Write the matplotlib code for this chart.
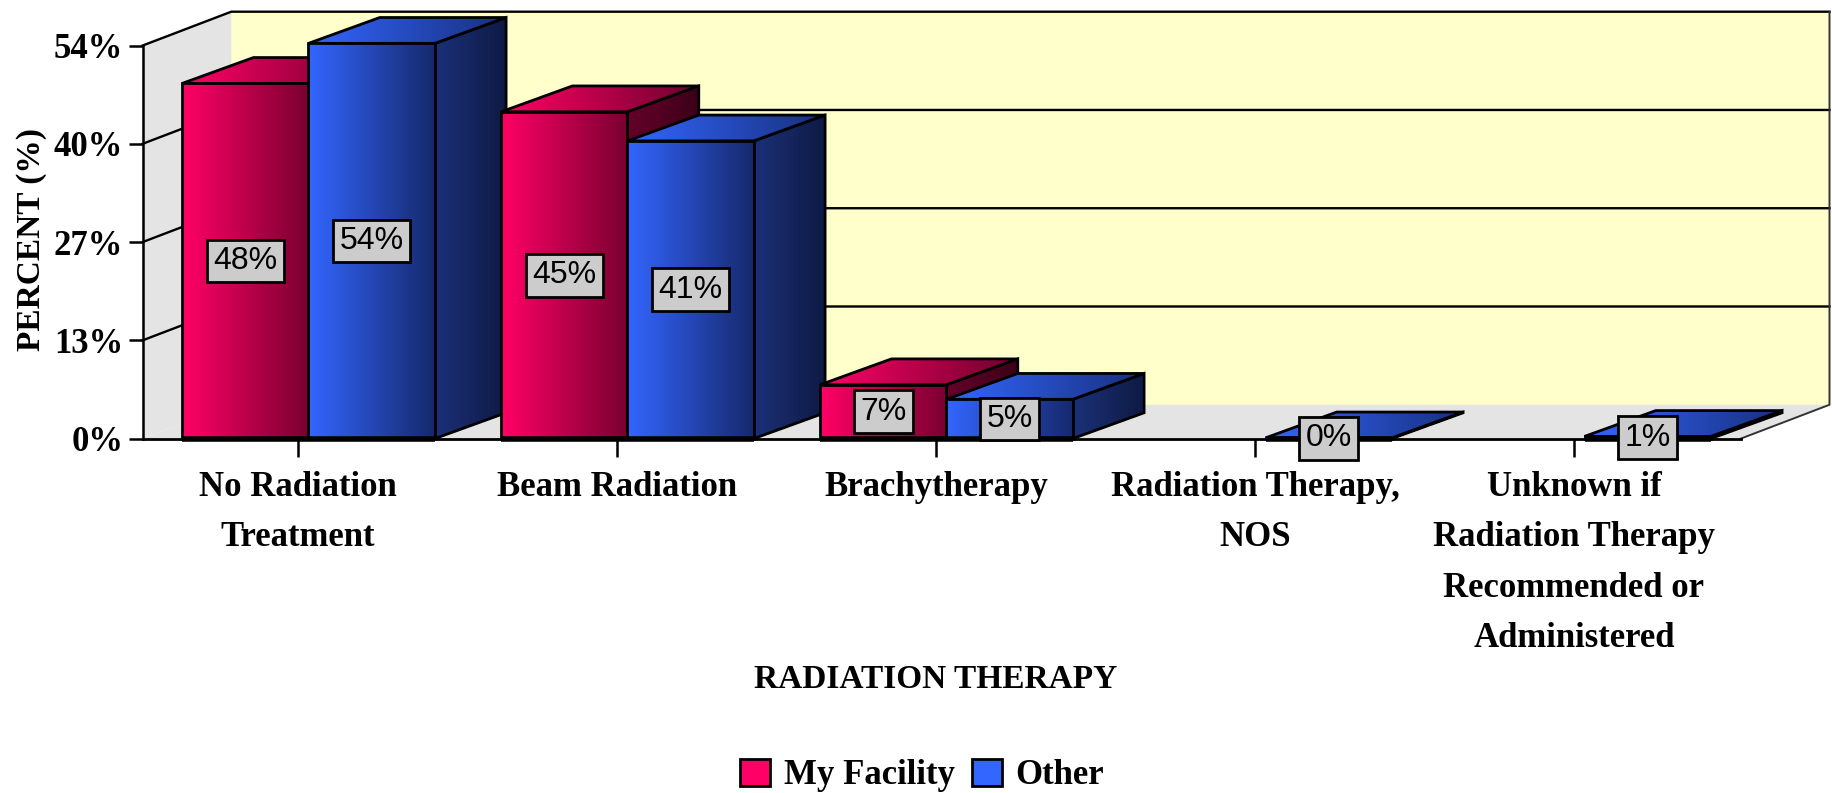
import numpy as np
import matplotlib
matplotlib.use("Agg")
import matplotlib.pyplot as plt
from matplotlib.patches import Polygon, Patch

categories = ["No Radiation\nTreatment", "Beam Radiation", "Brachytherapy",
              "Radiation Therapy,\nNOS",
              "Unknown if\nRadiation Therapy\nRecommended or\nAdministered"]
my_facility = [48.8, 44.9, 7.4, 0.0, 0.0]
other = [54.3, 40.9, 5.4, 0.1, 0.3]
my_facility_labels = ["48%", "45%", "7%", None, None]
other_labels = ["54%", "41%", "5%", "0%", "1%"]
y_ticks = [0, 13.5, 27, 40.5, 54]
y_tick_labels = ["0%", "13%", "27%", "40%", "54%"]

# colours: left/right of the gradient on each face
red_front = ("#FF0066", "#7A0030")
red_top = ("#FF0066", "#6E002C")
red_side = ("#66002A", "#3C0018")
blue_front = ("#3366FF", "#16296E")
blue_top = ("#3366FF", "#18307F")
blue_side = ("#1B3078", "#0E1A44")

bar_w = 0.396
bar_dx = 0.2234
bar_dy = 3.55
wall_dx = 0.278
wall_dy = 4.65
x_left = -0.52
x_right = 4.49
serif = "Liberation Serif"

plt.rcParams["font.family"] = serif
fig = plt.figure(figsize=(18.33, 7.93), dpi=100)
ax = fig.add_axes([122 / 1568, 1 - 375 / 678, (1565 - 122) / 1568, (375 - 10) / 678])
ax.set_xlim(x_left, x_right + wall_dx)
ax.set_ylim(0, 54 + wall_dy)
ax.set_autoscale_on(False)


def poly(pts, fc="none", ec="black", lw=2.0, z=1):
    p = Polygon(pts, closed=True, facecolor=fc, edgecolor=ec, linewidth=lw, zorder=z, clip_on=False)
    ax.add_patch(p)
    return p


def grad_poly(pts, cols, z):
    # horizontal gradient clipped to the polygon, black outline on top
    pts = np.array(pts)
    c0 = np.array(matplotlib.colors.to_rgb(cols[0]))
    c1 = np.array(matplotlib.colors.to_rgb(cols[1]))
    t = np.linspace(0, 1, 64)[None, :, None]
    img = c0[None, None, :] * (1 - t) + c1[None, None, :] * t
    ext = [pts[:, 0].min(), pts[:, 0].max(), pts[:, 1].min(), pts[:, 1].max()]
    if ext[3] - ext[2] < 1e-6:
        return
    im = ax.imshow(img, extent=ext, aspect="auto", origin="lower", zorder=z, interpolation="bilinear")
    outline = poly(pts, fc="none", ec="black", lw=2.0, z=z + 0.001)
    im.set_clip_path(outline)


def bar3d(x0, h, front, top, side, z):
    x1 = x0 + bar_w
    grad_poly([(x1, 0), (x1 + bar_dx, bar_dy), (x1 + bar_dx, h + bar_dy), (x1, h)], side, z)
    grad_poly([(x0, h), (x1, h), (x1 + bar_dx, h + bar_dy), (x0 + bar_dx, h + bar_dy)], top, z + 0.01)
    if h > 0:
        grad_poly([(x0, 0), (x1, 0), (x1, h), (x0, h)], front, z + 0.02)
    ax.plot([x0, x1], [0, 0], color="black", lw=4, zorder=z + 0.03, clip_on=False, solid_capstyle="butt")


# walls and floor
poly([(x_left + wall_dx, wall_dy), (x_right + wall_dx, wall_dy), (x_right + wall_dx, 54 + wall_dy),
      (x_left + wall_dx, 54 + wall_dy)], fc="#FFFFCC", ec="none", z=0.5)
poly([(x_left, 0), (x_left + wall_dx, wall_dy), (x_left + wall_dx, 54 + wall_dy), (x_left, 54)],
     fc="#E4E4E4", ec="none", z=0.6)
poly([(x_left, 0), (x_right, 0), (x_right + wall_dx, wall_dy), (x_left + wall_dx, wall_dy)],
     fc="#E4E4E4", ec="none", z=0.6)
for v in y_ticks[1:]:
    ax.plot([x_left, x_left + wall_dx, x_right + wall_dx], [v, v + wall_dy, v + wall_dy],
            color="black", lw=1.7, zorder=0.7, clip_on=False)
ax.plot([x_right, x_right + wall_dx, x_right + wall_dx], [0, wall_dy, 54 + wall_dy],
        color="#333333", lw=1.4, zorder=0.7, clip_on=False)

# bars, back to front, left to right
for i in range(len(categories)):
    if my_facility[i] > 0:
        bar3d(i - bar_w, my_facility[i], red_front, red_top, red_side, 2 + i)
    bar3d(i, other[i], blue_front, blue_top, blue_side, 2.5 + i)

# value boxes
box = dict(boxstyle="square,pad=0.2", facecolor="#CCCCCC", edgecolor="black", linewidth=2)
for i in range(len(categories)):
    if my_facility_labels[i]:
        ax.text(i - bar_w / 2, my_facility[i] / 2, my_facility_labels[i], ha="center", va="center",
                family="Liberation Sans", fontsize=23, bbox=box, zorder=20)
    ax.text(i + bar_w / 2, other[i] / 2, other_labels[i], ha="center", va="center",
            family="Liberation Sans", fontsize=23, bbox=box, zorder=20)

# axes
for s in ["top", "right"]:
    ax.spines[s].set_visible(False)
ax.spines["left"].set_bounds(0, 54)
ax.spines["bottom"].set_bounds(x_left, x_right)
ax.spines["left"].set_linewidth(1.8)
ax.spines["bottom"].set_linewidth(2.0)
ax.spines["left"].set_zorder(1)
ax.spines["bottom"].set_zorder(1)
ax.set_yticks(y_ticks)
ax.set_yticklabels(y_tick_labels, fontsize=25, fontweight="bold")
ax.set_xticks(np.arange(len(categories)) - 0.033)
ax.set_xticklabels(categories, fontsize=25, fontweight="bold", linespacing=1.7)
ax.tick_params(axis="y", length=10, width=1.8, pad=4)
ax.tick_params(axis="x", length=13, width=1.8, pad=10)
ax.patch.set_visible(False)

fig.text(27 / 1568, 1 - 205 / 678, "PERCENT (%)", rotation=90, ha="center", va="center",
         fontsize=24, fontweight="bold")
fig.text(800 / 1568, 1 - 581 / 678, "RADIATION THERAPY", ha="center", va="center",
         fontsize=24, fontweight="bold")

handles = [Patch(facecolor="#FF0066", edgecolor="black", linewidth=2),
           Patch(facecolor="#3366FF", edgecolor="black", linewidth=2)]
fig.legend(handles, ["My Facility", "Other"], loc="center", bbox_to_anchor=(789 / 1568, 1 - 663 / 678),
           ncol=2, frameon=False, prop=dict(family=serif, weight="bold", size=25),
           handlelength=0.85, handleheight=0.85, handletextpad=0.4, columnspacing=0.5)

fig.savefig("out.png", dpi=100)
